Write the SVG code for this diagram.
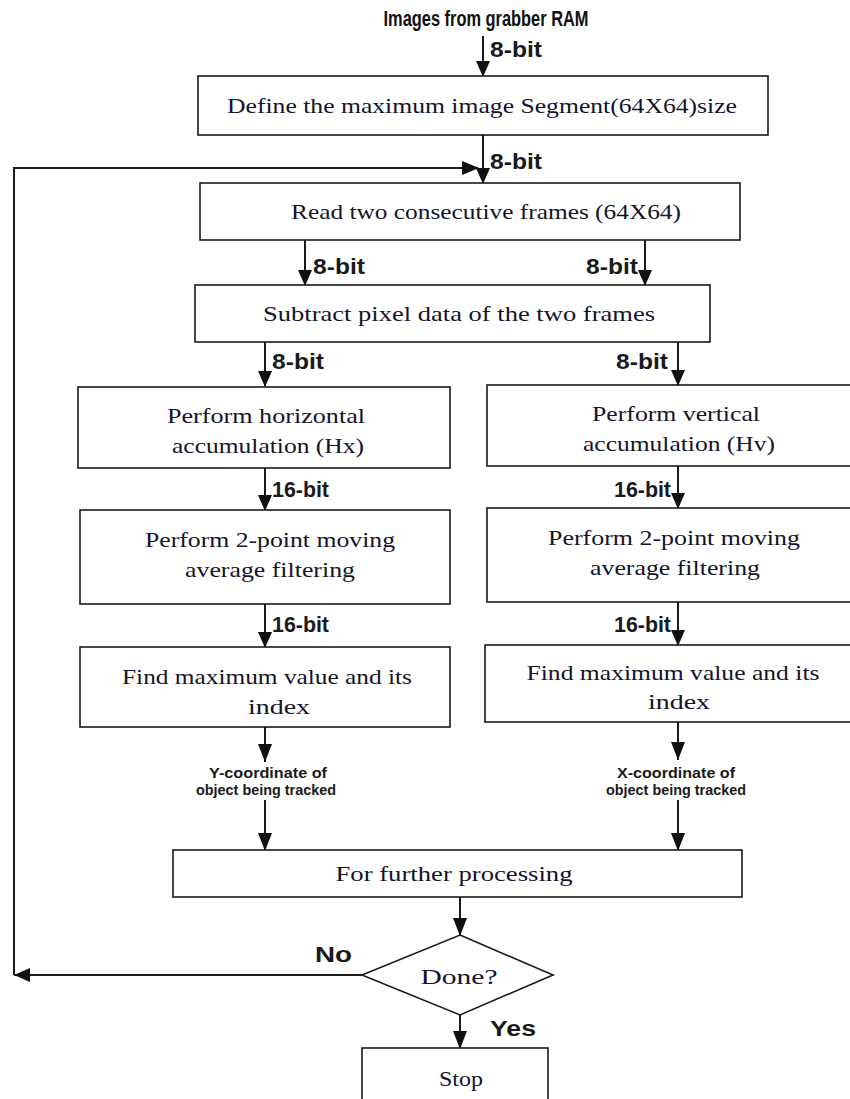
<svg xmlns="http://www.w3.org/2000/svg" width="850" height="1099" viewBox="0 0 850 1099">
<style>
.box{fill:#fff;stroke:#1a1a1a;stroke-width:1.6}
.t{font-family:"Liberation Serif","Times New Roman",serif;font-size:22px;fill:#14142a;text-anchor:middle}
.lb{font-family:"Liberation Sans",Arial,sans-serif;font-weight:bold;font-size:22px;fill:#1a1a1a}
.sm{font-family:"Liberation Sans",Arial,sans-serif;font-weight:bold;font-size:14px;fill:#1a1a1a;text-anchor:middle}
.ln{fill:none;stroke:#1a1a1a;stroke-width:2}
</style>
<rect width="850" height="1099" fill="#fff"/>
<text x="486" y="26" font-family="Liberation Sans,Arial,sans-serif" font-weight="bold" font-size="22" fill="#111" text-anchor="middle" textLength="205" lengthAdjust="spacingAndGlyphs">Images from grabber RAM</text>

<g id="connectors">
<path class="ln" d="M483,36 V75"/>
<path class="ln" d="M483,135 V183"/>
<path class="ln" d="M14,975 V168 H478"/>
<path class="ln" d="M305,240 V285"/>
<path class="ln" d="M645,240 V285"/>
<path class="ln" d="M265,342 V386"/>
<path class="ln" d="M678,342 V385"/>
<path class="ln" d="M265,468 V510"/>
<path class="ln" d="M678,466 V508"/>
<path class="ln" d="M265,604 V647"/>
<path class="ln" d="M678,602 V645"/>
<path class="ln" d="M265,727 V762"/>
<path class="ln" d="M678,722 V760"/>
<path class="ln" d="M265,800 V850"/>
<path class="ln" d="M678,800 V850"/>
<path class="ln" d="M460,897 V935"/>
<path class="ln" d="M362,975 H14"/>
<path class="ln" d="M460,1015 V1048"/>
<g fill="#111">
<path d="M476,61 L490,61 L483,77 Z"/>
<path d="M476,168 L490,168 L483,184 Z"/>
<path d="M462,161 L479,168 L462,175 Z"/>
<path d="M298,270 L312,270 L305,286 Z"/>
<path d="M638,270 L652,270 L645,286 Z"/>
<path d="M258,371 L272,371 L265,387 Z"/>
<path d="M671,370 L685,370 L678,386 Z"/>
<path d="M258,495 L272,495 L265,511 Z"/>
<path d="M671,493 L685,493 L678,509 Z"/>
<path d="M258,632 L272,632 L265,648 Z"/>
<path d="M671,630 L685,630 L678,646 Z"/>
<path d="M258,744 L272,744 L265,762 Z"/>
<path d="M671,742 L685,742 L678,760 Z"/>
<path d="M258,833 L272,833 L265,851 Z"/>
<path d="M671,833 L685,833 L678,851 Z"/>
<path d="M453,918 L467,918 L460,936 Z"/>
<path d="M453,1031 L467,1031 L460,1049 Z"/>
<path d="M14,975 L30,968 L30,982 Z"/>
</g>
<text class="lb" x="490" y="57" textLength="52" lengthAdjust="spacingAndGlyphs">8-bit</text>
<text class="lb" x="490" y="169" textLength="52" lengthAdjust="spacingAndGlyphs">8-bit</text>
<text class="lb" x="313" y="274" textLength="52" lengthAdjust="spacingAndGlyphs">8-bit</text>
<text class="lb" x="586" y="274" textLength="52" lengthAdjust="spacingAndGlyphs">8-bit</text>
<text class="lb" x="272" y="369" textLength="52" lengthAdjust="spacingAndGlyphs">8-bit</text>
<text class="lb" x="616" y="369" textLength="52" lengthAdjust="spacingAndGlyphs">8-bit</text>
<text class="lb" x="272" y="497" textLength="57" lengthAdjust="spacingAndGlyphs">16-bit</text>
<text class="lb" x="614" y="497" textLength="57" lengthAdjust="spacingAndGlyphs">16-bit</text>
<text class="lb" x="272" y="632" textLength="57" lengthAdjust="spacingAndGlyphs">16-bit</text>
<text class="lb" x="614" y="632" textLength="57" lengthAdjust="spacingAndGlyphs">16-bit</text>
<text class="sm" x="268" y="778" textLength="118" lengthAdjust="spacingAndGlyphs">Y-coordinate of</text>
<text class="sm" x="266" y="795" textLength="140" lengthAdjust="spacingAndGlyphs">object being tracked</text>
<text class="sm" x="676" y="778" textLength="118" lengthAdjust="spacingAndGlyphs">X-coordinate of</text>
<text class="sm" x="676" y="795" textLength="140" lengthAdjust="spacingAndGlyphs">object being tracked</text>
<text class="lb" x="315" y="962" font-size="16" textLength="37" lengthAdjust="spacingAndGlyphs">No</text>
<text class="lb" x="490" y="1036" font-size="16" textLength="46" lengthAdjust="spacingAndGlyphs">Yes</text>
</g>

<g id="define"><rect class="box" x="198" y="76" width="570" height="59"/><text class="t" x="482" y="113" textLength="510" lengthAdjust="spacingAndGlyphs">Define the maximum image Segment(64X64)size</text></g>
<g id="read"><rect class="box" x="200" y="183" width="540" height="57"/><text class="t" x="486" y="219" textLength="390" lengthAdjust="spacingAndGlyphs">Read two consecutive frames (64X64)</text></g>
<g id="subtract"><rect class="box" x="195" y="285" width="515" height="57"/><text class="t" x="459" y="321" textLength="392" lengthAdjust="spacingAndGlyphs">Subtract pixel data of the two frames</text></g>
<g id="hacc"><rect class="box" x="78" y="387" width="372" height="81"/><text class="t" x="266" y="423" textLength="198" lengthAdjust="spacingAndGlyphs">Perform horizontal</text><text class="t" x="268" y="453" textLength="192" lengthAdjust="spacingAndGlyphs">accumulation (Hx)</text></g>
<g id="vacc"><rect class="box" x="487" y="385" width="370" height="81"/><text class="t" x="676" y="421" textLength="168" lengthAdjust="spacingAndGlyphs">Perform vertical</text><text class="t" x="679" y="451" textLength="192" lengthAdjust="spacingAndGlyphs">accumulation (Hv)</text></g>
<g id="hfilt"><rect class="box" x="80" y="510" width="370" height="94"/><text class="t" x="270" y="547" textLength="250" lengthAdjust="spacingAndGlyphs">Perform 2-point moving</text><text class="t" x="270" y="577" textLength="170" lengthAdjust="spacingAndGlyphs">average filtering</text></g>
<g id="vfilt"><rect class="box" x="487" y="508" width="370" height="94"/><text class="t" x="674" y="545" textLength="252" lengthAdjust="spacingAndGlyphs">Perform 2-point moving</text><text class="t" x="675" y="575" textLength="170" lengthAdjust="spacingAndGlyphs">average filtering</text></g>
<g id="hmax"><rect class="box" x="80" y="647" width="370" height="80"/><text class="t" x="267" y="684" textLength="290" lengthAdjust="spacingAndGlyphs">Find maximum value and its</text><text class="t" x="279" y="714" textLength="62" lengthAdjust="spacingAndGlyphs">index</text></g>
<g id="vmax"><rect class="box" x="485" y="645" width="372" height="77"/><text class="t" x="673" y="680" textLength="293" lengthAdjust="spacingAndGlyphs">Find maximum value and its</text><text class="t" x="679" y="709" textLength="62" lengthAdjust="spacingAndGlyphs">index</text></g>
<g id="further"><rect class="box" x="173" y="850" width="569" height="47"/><text class="t" x="454" y="881" textLength="237" lengthAdjust="spacingAndGlyphs">For further processing</text></g>
<g id="done"><path class="box" d="M460,935 L553,975 L460,1015 L362,975 Z"/><text class="t" x="459" y="984" font-size="24" textLength="77" lengthAdjust="spacingAndGlyphs">Done?</text></g>
<g id="stop"><rect class="box" x="362" y="1048" width="186" height="60"/><text class="t" x="461" y="1086" font-size="24" textLength="44" lengthAdjust="spacingAndGlyphs">Stop</text></g>
</svg>
